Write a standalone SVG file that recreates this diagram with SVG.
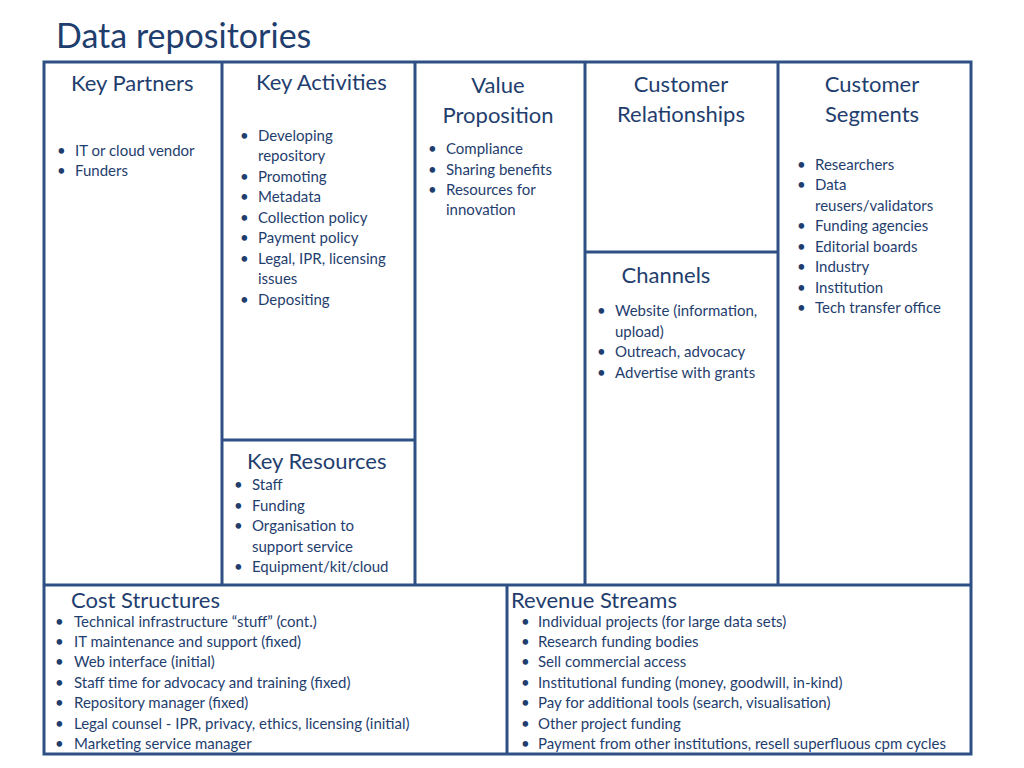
<svg xmlns="http://www.w3.org/2000/svg" width="1024" height="768" viewBox="0 0 1024 768">
<style>
.ln{stroke:#2F5084;stroke-width:3;fill:none}
.t{font-family:Lato,"Open Sans",sans-serif;fill:#1F3E6E}
.h{font-size:22px}
.b{font-size:15px}
.c{text-anchor:middle}
</style>
<rect width="1024" height="768" fill="#fff"/>
<text class="t" x="56" y="48" font-size="34">Data repositories</text>
<g id="frame">
<rect class="ln" x="44" y="62" width="927" height="692"/>
<path class="ln" d="M222 62V585M415 62V585M585 62V585M778 62V585M222 440H415M585 252H778M44 585H971M507 585V754"/>
</g>
<g id="key-partners" class="t">
<text class="h" x="71" y="91">Key Partners</text>
<g class="b"><text x="57" y="156">•</text><text x="75" y="156">IT or cloud vendor</text>
<text x="57" y="176">•</text><text x="75" y="176">Funders</text></g>
</g>
<g id="key-activities" class="t">
<text class="h" x="256" y="90">Key Activities</text>
<g class="b">
<text x="240" y="141">•</text><text x="258" y="141">Developing</text>
<text x="258" y="161">repository</text>
<text x="240" y="182">•</text><text x="258" y="182">Promoting</text>
<text x="240" y="202">•</text><text x="258" y="202">Metadata</text>
<text x="240" y="223">•</text><text x="258" y="223">Collection policy</text>
<text x="240" y="243">•</text><text x="258" y="243">Payment policy</text>
<text x="240" y="264">•</text><text x="258" y="264">Legal, IPR, licensing</text>
<text x="258" y="284">issues</text>
<text x="240" y="305">•</text><text x="258" y="305">Depositing</text>
</g></g>
<g id="value-proposition" class="t">
<text class="h c" x="498" y="93">Value</text>
<text class="h c" x="498" y="123">Proposition</text>
<g class="b">
<text x="428" y="154">•</text><text x="446" y="154">Compliance</text>
<text x="428" y="175">•</text><text x="446" y="175">Sharing benefits</text>
<text x="428" y="195">•</text><text x="446" y="195">Resources for</text>
<text x="446" y="215">innovation</text>
</g></g>
<g id="customer-relationships" class="t">
<text class="h c" x="681" y="92">Customer</text>
<text class="h c" x="681" y="122">Relationships</text>
</g>
<g id="customer-segments" class="t">
<text class="h c" x="872" y="92">Customer</text>
<text class="h c" x="872" y="122">Segments</text>
<g class="b">
<text x="797" y="170">•</text><text x="815" y="170">Researchers</text>
<text x="797" y="190">•</text><text x="815" y="190">Data</text>
<text x="815" y="211">reusers/validators</text>
<text x="797" y="231">•</text><text x="815" y="231">Funding agencies</text>
<text x="797" y="252">•</text><text x="815" y="252">Editorial boards</text>
<text x="797" y="272">•</text><text x="815" y="272">Industry</text>
<text x="797" y="293">•</text><text x="815" y="293">Institution</text>
<text x="797" y="313">•</text><text x="815" y="313">Tech transfer office</text>
</g></g>
<g id="channels" class="t">
<text class="h c" x="666" y="283">Channels</text>
<g class="b">
<text x="597" y="316">•</text><text x="615" y="316">Website (information,</text>
<text x="615" y="337">upload)</text>
<text x="597" y="357">•</text><text x="615" y="357">Outreach, advocacy</text>
<text x="597" y="378">•</text><text x="615" y="378">Advertise with grants</text>
</g></g>
<g id="key-resources" class="t">
<text class="h" x="247" y="469">Key Resources</text>
<g class="b">
<text x="234" y="490">•</text><text x="252" y="490">Staff</text>
<text x="234" y="511">•</text><text x="252" y="511">Funding</text>
<text x="234" y="531">•</text><text x="252" y="531">Organisation to</text>
<text x="252" y="552">support service</text>
<text x="234" y="572">•</text><text x="252" y="572">Equipment/kit/cloud</text>
</g></g>
<g id="cost-structures" class="t">
<text class="h" x="71" y="608">Cost Structures</text>
<g class="b">
<text x="55" y="627">•</text><text x="74" y="627">Technical infrastructure “stuff” (cont.)</text>
<text x="55" y="647">•</text><text x="74" y="647">IT maintenance and support (fixed)</text>
<text x="55" y="667">•</text><text x="74" y="667">Web interface (initial)</text>
<text x="55" y="688">•</text><text x="74" y="688">Staff time for advocacy and training (fixed)</text>
<text x="55" y="708">•</text><text x="74" y="708">Repository manager  (fixed)</text>
<text x="55" y="729">•</text><text x="74" y="729">Legal counsel - IPR, privacy, ethics, licensing (initial)</text>
<text x="55" y="749">•</text><text x="74" y="749">Marketing service manager</text>
</g></g>
<g id="revenue-streams" class="t">
<text class="h" x="511" y="608">Revenue Streams</text>
<g class="b">
<text x="521" y="627">•</text><text x="538" y="627">Individual projects (for large data sets)</text>
<text x="521" y="647">•</text><text x="538" y="647">Research funding bodies</text>
<text x="521" y="667">•</text><text x="538" y="667">Sell commercial access</text>
<text x="521" y="688">•</text><text x="538" y="688">Institutional funding (money, goodwill, in-kind)</text>
<text x="521" y="708">•</text><text x="538" y="708">Pay for additional tools (search, visualisation)</text>
<text x="521" y="729">•</text><text x="538" y="729">Other project funding</text>
<text x="521" y="749">•</text><text x="538" y="749">Payment from other institutions, resell superfluous cpm cycles</text>
</g></g>
</svg>
